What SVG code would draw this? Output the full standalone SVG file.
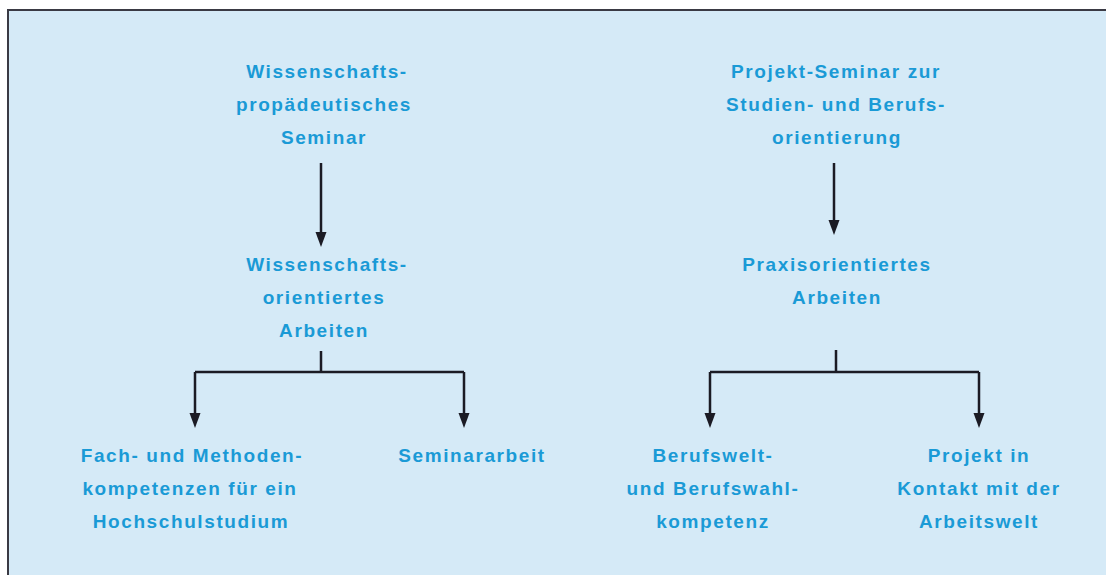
<svg xmlns="http://www.w3.org/2000/svg" width="1106" height="575" viewBox="0 0 1106 575">
<style>
.t{font-family:"Liberation Sans",Arial,sans-serif;font-weight:bold;font-size:19px;fill:#1a9ad6;text-anchor:middle;letter-spacing:1.6px}
.c{stroke:#1b1b24;stroke-width:2.5;fill:none}
</style>
<rect x="0" y="0" width="1106" height="575" fill="#ffffff"/>
<rect x="8" y="10" width="1110" height="580" fill="#d5eaf7" stroke="#3a3a44" stroke-width="2"/>
<g id="connectors">
<line class="c" x1="321" y1="163" x2="321" y2="233"/>
<path d="M315.5,232 L326.5,232 L321,247 Z" fill="#1b1b24"/>
<path class="c" d="M321,351 V372 M195,372 H464 M195,372 V414 M464,372 V414"/>
<path d="M189.5,413 L200.5,413 L195,428 Z" fill="#1b1b24"/>
<path d="M458.5,413 L469.5,413 L464,428 Z" fill="#1b1b24"/>
<line class="c" x1="834" y1="163" x2="834" y2="221"/>
<path d="M828.5,220 L839.5,220 L834,235 Z" fill="#1b1b24"/>
<path class="c" d="M836,350 V372 M710,372 H979 M710,372 V414 M979,372 V414"/>
<path d="M704.5,413 L715.5,413 L710,428 Z" fill="#1b1b24"/>
<path d="M973.5,413 L984.5,413 L979,428 Z" fill="#1b1b24"/>
</g>
<g id="n1"><text class="t" x="327" y="78">Wissenschafts-</text><text class="t" x="324" y="111">propädeutisches</text><text class="t" x="324" y="144">Seminar</text></g>
<g id="n2"><text class="t" x="327" y="271">Wissenschafts-</text><text class="t" x="324" y="304">orientiertes</text><text class="t" x="324" y="337">Arbeiten</text></g>
<g id="n3"><text class="t" x="192" y="462">Fach- und Methoden-</text><text class="t" x="190" y="495">kompetenzen für ein</text><text class="t" x="191" y="528">Hochschulstudium</text></g>
<g id="n4"><text class="t" x="472" y="462">Seminararbeit</text></g>
<g id="n5"><text class="t" x="836" y="78">Projekt-Seminar zur</text><text class="t" x="836" y="111">Studien- und Berufs-</text><text class="t" x="837" y="144">orientierung</text></g>
<g id="n6"><text class="t" x="837" y="271">Praxisorientiertes</text><text class="t" x="837" y="304">Arbeiten</text></g>
<g id="n7"><text class="t" x="713" y="462">Berufswelt-</text><text class="t" x="713" y="495">und Berufswahl-</text><text class="t" x="713" y="528">kompetenz</text></g>
<g id="n8"><text class="t" x="979" y="462">Projekt in</text><text class="t" x="979" y="495">Kontakt mit der</text><text class="t" x="979" y="528">Arbeitswelt</text></g>
</svg>
